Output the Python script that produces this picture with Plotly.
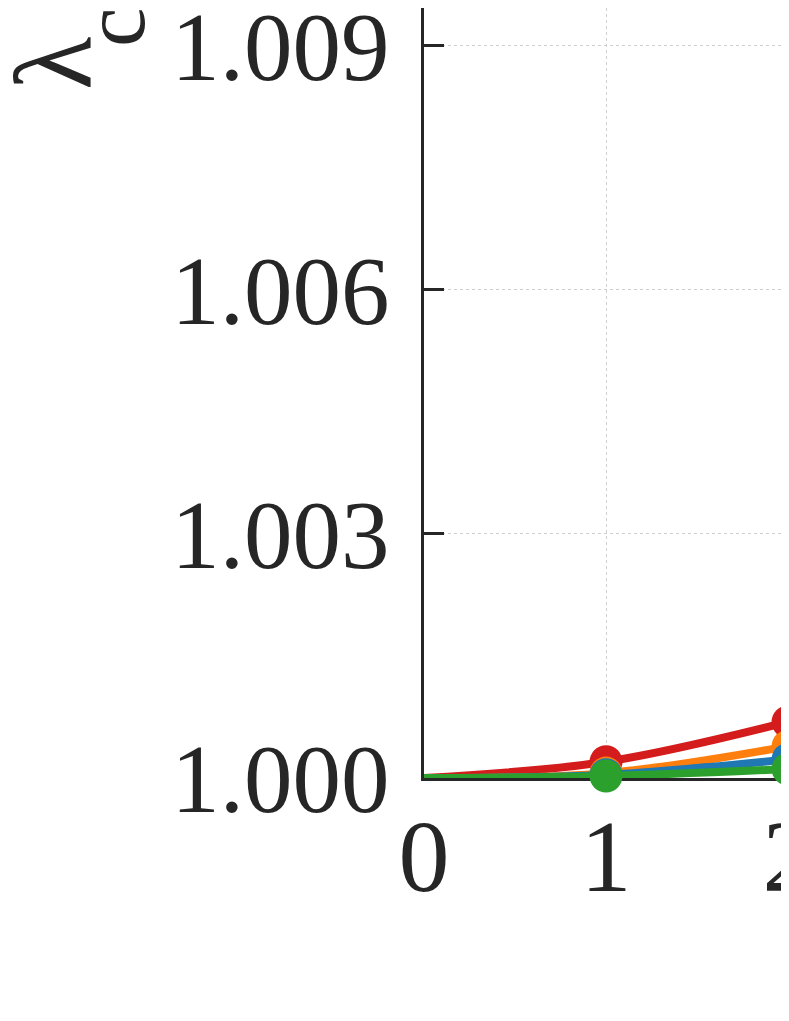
import plotly.graph_objects as go

x_vals = [0, 1, 2]
series_names = ["red", "orange", "blue", "green"]
series_colors = ["#d41c1c", "#ff7f0e", "#1f77b4", "#2ca02c"]
series_values = {
    "red":    [1.0, 1.00020, 1.00069],
    "orange": [1.0, 1.00006, 1.00039],
    "blue":   [1.0, 1.00004, 1.00023],
    "green":  [1.0, 1.000025, 1.00011],
}
marker_sizes = [0, 33, 33]
y_ticks = [1.000, 1.003, 1.006, 1.009]
y_ticklabels = ["1.000", "1.003", "1.006", "1.009"]
x_ticks = [0, 1, 2]
y_title_main = "λ"
y_title_sub = "c"

FONT = "Times New Roman, Liberation Serif, serif"
INK = "#262626"

fig = go.Figure()
for name, color in zip(series_names, series_colors):
    fig.add_trace(go.Scatter(
        x=x_vals, y=series_values[name], mode="lines+markers",
        line=dict(color=color, width=8, shape="spline"),
        marker=dict(color=color, size=marker_sizes, opacity=1, line=dict(width=0)),
        showlegend=False, cliponaxis=False,
    ))

fig.update_layout(
    template="none",
    width=789, height=1021,
    margin=dict(l=416, r=0, t=0, b=251, autoexpand=False),
    paper_bgcolor="white", plot_bgcolor="white",
    font=dict(family=FONT, color=INK, size=98),
)
common = dict(
    showline=True, linecolor=INK, linewidth=3, mirror=False,
    ticks="inside", ticklen=20, tickwidth=3, tickcolor=INK,
    showgrid=True, gridcolor="#d0d0d0", griddash="dot", gridwidth=1,
    zeroline=False, automargin=False, ticklabeloverflow="allow",
    layer="below traces",
)
fig.update_xaxes(range=[0, 2.049], tickvals=x_ticks,
                 ticktext=[str(v) for v in x_ticks], ticklabelstandoff=-12,
                 tickfont=dict(family=FONT, size=102, color=INK), **common)
fig.update_yaxes(range=[1.0, 1.009467], tickvals=y_ticks,
                 ticktext=y_ticklabels, ticklabelstandoff=12,
                 tickfont=dict(family=FONT, size=97, color=INK), **common)

def px_x(X):
    return (X - 424) / 373

def px_y(Y):
    return (778 - Y) / 770

fig.add_annotation(
    text=y_title_main, textangle=-90, showarrow=False,
    xref="paper", yref="paper", x=px_x(54), y=px_y(64),
    xanchor="center", yanchor="middle",
    font=dict(family=FONT, size=110, color=INK),
)
fig.add_annotation(
    text=y_title_sub, textangle=-90, showarrow=False,
    xref="paper", yref="paper", x=px_x(114), y=px_y(27),
    xanchor="center", yanchor="middle",
    font=dict(family=FONT, size=89, color=INK),
)
fig.write_html("out.html")
